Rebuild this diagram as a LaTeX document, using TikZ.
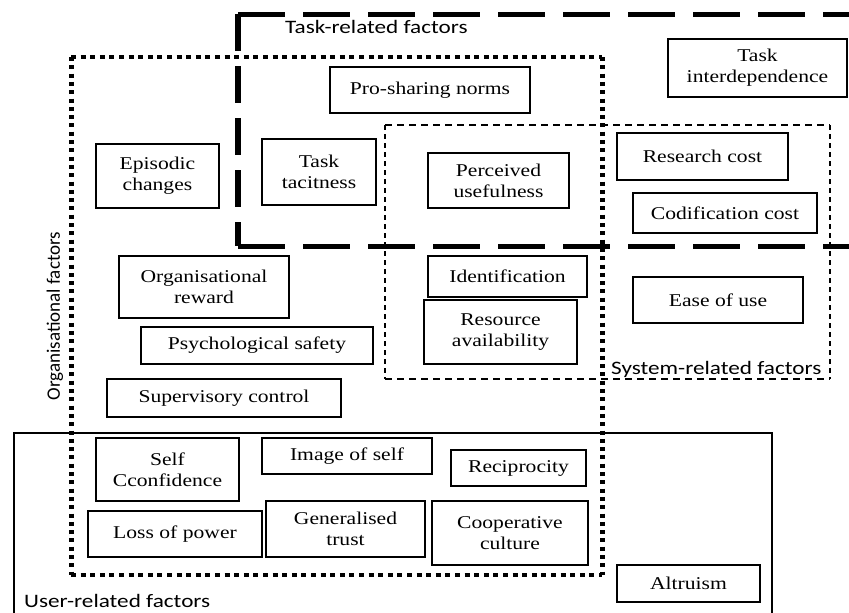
\documentclass[tikz,border=0pt]{standalone}
\usepackage{fontspec}
\setmainfont{Liberation Serif}[FakeStretch=1.2]
\newfontfamily\labfont{Carlito}[FakeStretch=1.22]
\newfontfamily\labvfont{Carlito}
\begin{document}
\begin{tikzpicture}[x=1pt,y=-1pt,
  fbox/.style={draw, line width=1.4pt, inner sep=0pt, align=center,
    font=\fontsize{18}{21}\selectfont},
  lab/.style={inner sep=0pt, font=\labfont\fontsize{19}{22}\selectfont},
  taskh/.style={line width=5pt, dash pattern=on 47pt off 18pt},
  taskv/.style={line width=5.5pt, dash pattern=on 37pt off 15pt},
  orgh/.style={line width=4.2pt, dash pattern=on 5pt off 4.6pt},
  orgv/.style={line width=5pt, dash pattern=on 4pt off 4.3pt},
  sysh/.style={line width=1.3pt, dash pattern=on 7pt off 5pt},
  sysv/.style={line width=1.3pt, dash pattern=on 5pt off 4pt},
  userline/.style={line width=1.4pt}]
\useasboundingbox (0,0) rectangle (849,613);

% region borders
% task-related (thick dashed, open to the right)
\draw[taskh] (238,14) -- (860,14);
\draw[taskv] (238,14) -- (238,246);
\draw[taskh] (238,246) -- (860,246);
% organisational (thick dotted)
\draw[orgh] (71,57) -- (602,57);
\draw[orgh] (71,575) -- (602,575);
\draw[orgv] (71,57) -- (71,575);
\draw[orgv] (602,57) -- (602,575);
% system-related (thin dashed)
\draw[sysh] (385,125) -- (830,125);
\draw[sysh] (385,379) -- (830,379);
\draw[sysv] (385,125) -- (385,379);
\draw[sysv] (830,125) -- (830,379);
% user-related (solid, open at bottom)
\draw[userline] (14,625) -- (14,433) -- (772,433) -- (772,625);

% region labels
\node[lab, anchor=base west] (tasklab) at (285,34) {Task-related factors};
\node[lab, anchor=base west] (syslab) at (611,374) {System-related factors};
\node[lab, anchor=base west] (userlab) at (24,607) {User-related factors};
\node[inner sep=0pt, rotate=90, font=\labvfont\fontsize{19}{22}\selectfont] (orglab) at (55,316) {Organisational factors};

% factor boxes
\node[fbox, minimum width=200, minimum height=46] (prosharing) at (430,90) {Pro-sharing norms};
\node[fbox, minimum width=123, minimum height=64] (episodic) at (157.5,176) {Episodic\\changes};
\node[fbox, minimum width=114, minimum height=66] (tacit) at (319,172) {Task\\tacitness};
\node[fbox, minimum width=141, minimum height=55] (perceived) at (498.5,180.5) {Perceived\\usefulness};
\node[fbox, minimum width=179, minimum height=58] (taskinter) at (757.5,68) {Task\\interdependence};
\node[fbox, minimum width=171, minimum height=47] (research) at (702.5,156.5) {Research cost};
\node[fbox, minimum width=184, minimum height=40] (codif) at (725,213) {Codification cost};
\node[fbox, minimum width=170, minimum height=62] (orgreward) at (204,287) {Organisational\\reward};
\node[fbox, minimum width=159, minimum height=41] (ident) at (507.5,276.5) {Identification};
\node[fbox, minimum width=170, minimum height=46] (ease) at (718,300) {Ease of use};
\node[fbox, minimum width=153, minimum height=64] (resource) at (500.5,332) {Resource\\availability};
\node[fbox, minimum width=232, minimum height=37] (psych) at (257,345.5) {Psychological safety};
\node[fbox, minimum width=234, minimum height=38] (superv) at (224,398) {Supervisory control};
\node[fbox, minimum width=143, minimum height=63] (selfconf) at (167.5,469.5) {Self\\Cconfidence};
\node[fbox, minimum width=170, minimum height=36] (image) at (347,456) {Image of self};
\node[fbox, minimum width=135, minimum height=36] (recip) at (518.5,468) {Reciprocity};
\node[fbox, minimum width=174, minimum height=46] (loss) at (175,534) {Loss of power};
\node[fbox, minimum width=159, minimum height=56] (gentrust) at (345.5,529) {Generalised\\trust};
\node[fbox, minimum width=156, minimum height=64] (coop) at (510,533) {Cooperative\\culture};
\node[fbox, minimum width=143, minimum height=37] (altruism) at (688.5,583.5) {Altruism};
\end{tikzpicture}
\end{document}
